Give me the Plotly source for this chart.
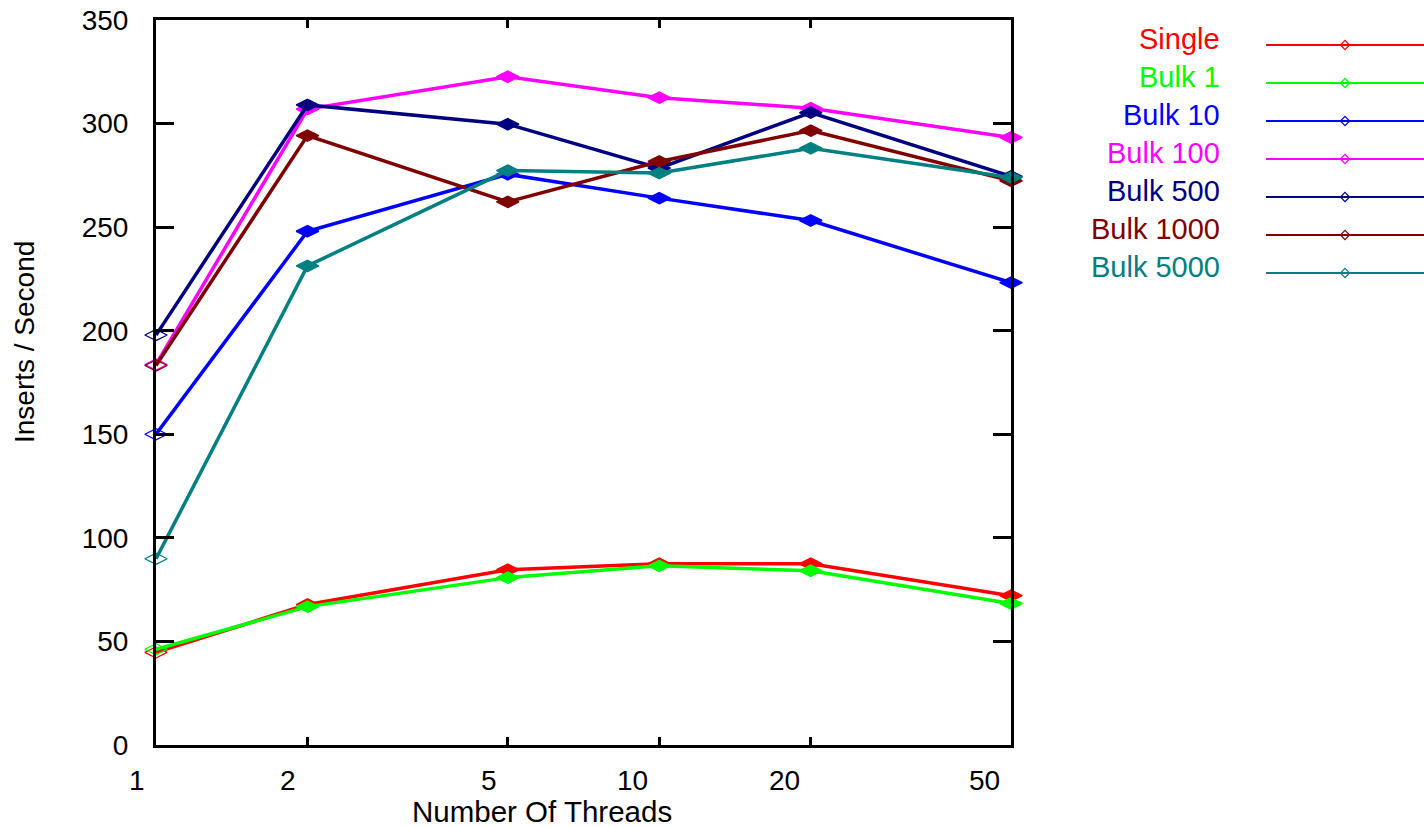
import numpy as np
import plotly.graph_objects as go

# Thread counts on the x axis (log scale)
threads = [1, 2, 5, 10, 20, 50]
x_tick_labels = ["1", "2", "5", "10", "20", "50"]
y_tick_values = [0, 50, 100, 150, 200, 250, 300, 350]

# Inserts per second for each insert strategy
single = [44.7, 67.8, 84.6, 87.5, 87.5, 72.1]
bulk_1 = [46.2, 66.8, 80.8, 86.5, 84.1, 68.3]
bulk_10 = [150.0, 248.0, 275.5, 264.0, 253.2, 223.2]
bulk_100 = [183.7, 307.0, 322.6, 312.5, 307.4, 293.3]
bulk_500 = [197.9, 309.0, 299.7, 278.5, 305.3, 274.5]
bulk_1000 = [183.2, 294.2, 262.2, 281.7, 296.6, 272.4]
bulk_5000 = [89.9, 231.3, 277.3, 276.1, 288.1, 274.0]

series_names = ["Single", "Bulk 1", "Bulk 10", "Bulk 100", "Bulk 500", "Bulk 1000", "Bulk 5000"]
series_values = [single, bulk_1, bulk_10, bulk_100, bulk_500, bulk_1000, bulk_5000]
series_colors = ["#ff0000", "#00ff00", "#0000ff", "#ff00ff", "#000080", "#800000", "#008080"]

FONT = "Arial, Liberation Sans, sans-serif"
W, H = 1424, 827
M_L, M_R, M_T, M_B = 156, 0, 20, 82
plot_w = W - M_L - M_R
plot_h = H - M_T - M_B
main_right = 1011  # right edge of the main plotting frame in pixels


def px_to_paper_x(px):
    return (px - M_L) / plot_w


def px_to_paper_y(py):
    return (H - M_B - py) / plot_h


fig = go.Figure()

# First point of each series is drawn as a thin hollow diamond, the rest solid
n_pts = len(threads)
marker_symbols = ["diamond-wide-open"] + ["diamond-wide"] * (n_pts - 1)
marker_widths = [1.2] + [1.5] * (n_pts - 1)

for name, vals, col in zip(series_names, series_values, series_colors):
    fig.add_trace(go.Scatter(
        x=threads, y=vals, name=name, mode="lines+markers",
        line=dict(color=col, width=3.5),
        marker=dict(symbol=marker_symbols, size=16, color=col,
                    line=dict(color=col, width=marker_widths)),
        cliponaxis=False, showlegend=False,
    ))

# Key on the right: colored text, then a line sample with a small diamond
rows = list(range(len(series_names)))
row_top_px, row_step_px = 45, 38
for i, (name, col) in enumerate(zip(series_names, series_colors)):
    fig.add_trace(go.Scatter(
        x=[0, 1], y=[i, i], mode="lines", line=dict(color=col, width=2),
        xaxis="x2", yaxis="y2", cliponaxis=False, showlegend=False, hoverinfo="skip",
    ))
    fig.add_annotation(
        text=name, xref="paper", yref="y2", x=px_to_paper_x(1222), y=i,
        xanchor="right", yanchor="middle", yshift=6, showarrow=False,
        font=dict(family=FONT, size=29, color=col),
    )
fig.add_trace(go.Scatter(
    x=[0.5] * len(rows), y=rows, mode="markers",
    marker=dict(symbol="diamond-open", size=7, color=series_colors,
                line=dict(color=series_colors, width=1.2)),
    xaxis="x2", yaxis="y2", cliponaxis=False, showlegend=False, hoverinfo="skip",
))

# X tick labels sit just left of their tick marks
for t, lab in zip(threads, x_tick_labels):
    fig.add_annotation(
        text=lab, xref="x", yref="paper", x=np.log10(t), y=0,
        xanchor="right", yanchor="middle", xshift=-9, yshift=-35,
        showarrow=False, font=dict(family=FONT, size=28, color="black"),
    )

fig.add_annotation(
    text="Number Of Threads", xref="paper", yref="paper",
    x=px_to_paper_x(542), y=0, xanchor="center", yanchor="middle", yshift=-66,
    showarrow=False, font=dict(family=FONT, size=29.5, color="black"),
)
fig.add_annotation(
    text="Inserts / Second", xref="paper", yref="paper",
    x=px_to_paper_x(24), y=px_to_paper_y(342), xanchor="center", yanchor="middle",
    textangle=-90, showarrow=False, font=dict(family=FONT, size=28, color="black"),
)

axis_common = dict(showline=True, linecolor="black", linewidth=3, mirror="ticks",
                   ticks="inside", tickcolor="black", tickwidth=3,
                   showgrid=False, zeroline=False)

fig.update_layout(
    width=W, height=H,
    margin=dict(l=M_L, r=M_R, t=M_T, b=M_B),
    paper_bgcolor="white", plot_bgcolor="white",
    font=dict(family=FONT, size=28, color="black"),
    xaxis=dict(type="log", range=[0, np.log10(50)], tickvals=threads,
               showticklabels=False, ticklen=8,
               domain=[0, px_to_paper_x(main_right)], **axis_common),
    yaxis=dict(range=[0, 350], tickvals=y_tick_values, ticklen=18,
               ticklabelstandoff=19, **axis_common),
    xaxis2=dict(domain=[px_to_paper_x(1266), 1], range=[0, 1], visible=False, anchor="y2"),
    yaxis2=dict(domain=[0, 1],
                range=[(H - M_B - row_top_px) / row_step_px, (M_T - row_top_px) / row_step_px],
                visible=False, anchor="x2"),
)

fig.write_html("out.html")
